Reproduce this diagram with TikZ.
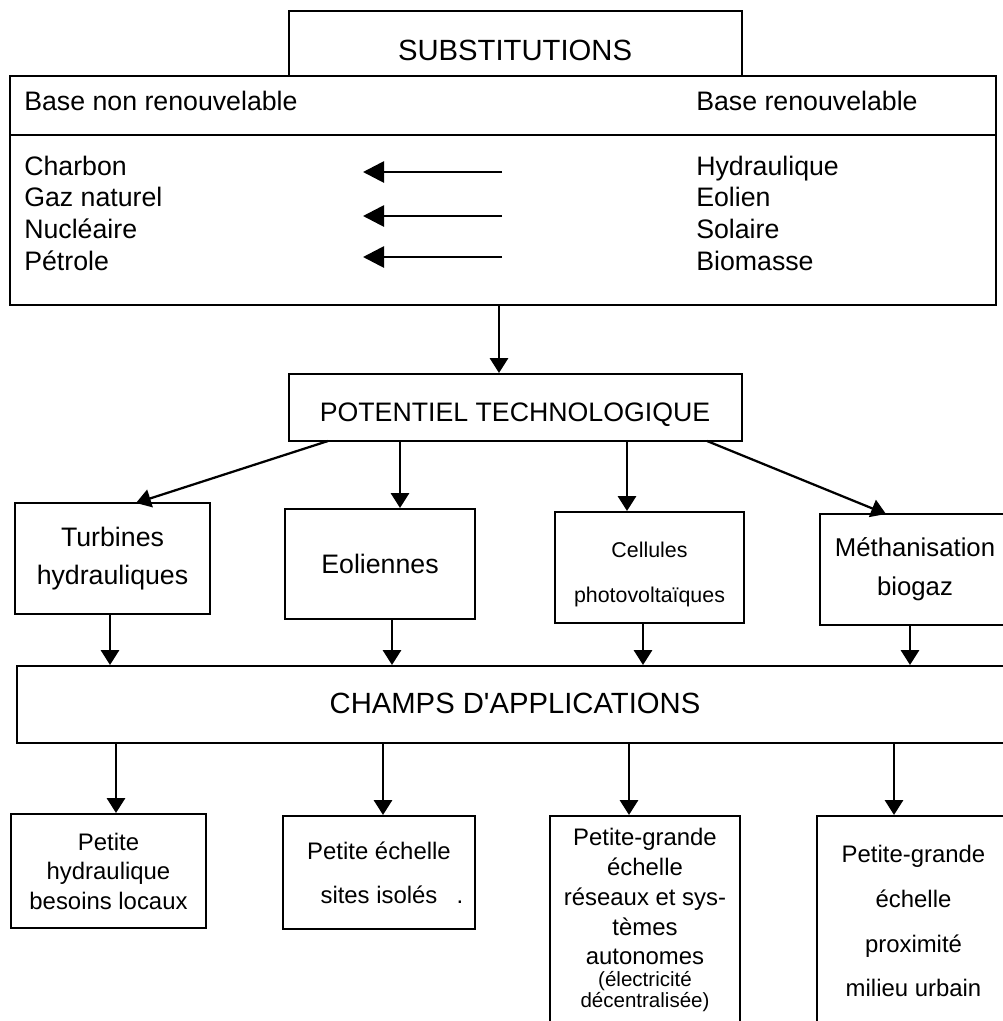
\documentclass[tikz,border=0pt]{standalone}
\usepackage{fontspec}
\setmainfont{Liberation Sans}
\usetikzlibrary{arrows.meta}

\begin{document}
\begin{tikzpicture}[x=0.025cm, y=-0.025cm, >={Triangle[length=10.5pt,width=13pt]},
    box/.style={draw, line width=1.5pt, inner sep=0pt, align=center},
    link/.style={->, line width=1.2pt},
    sublink/.style={-{Triangle[length=15pt,width=15pt]}, line width=2pt},
    headtext/.style={inner sep=0pt, font=\fontsize{20.8}{25}\selectfont},
    txt/.style={inner sep=0pt, font=\fontsize{19}{22.5}\selectfont},
    lowtext/.style={inner sep=0pt, align=center, font=\fontsize{17}{21.2}\selectfont}]
        % Page
        \useasboundingbox (0,0) rectangle (1003,1021);
        \fill[white] (0,0) rectangle (1003,1021);
        \clip (0,0) rectangle (1003,1021);

        % Substitutions
        \node[box, minimum width=11.325cm, minimum height=1.625cm] (subst) at (515.5,43.5) {};
        \node[headtext] (substT) at (515,50) {SUBSTITUTIONS};
        \node[box, minimum width=24.65cm, minimum height=5.725cm] (base) at (503,190.5) {};
        \draw[line width=1.5pt] (10,135) -- (996,135);
        \node[txt, anchor=base west] (nonrenT) at (24,110) {Base non renouvelable};
        \node[txt, anchor=base west] (renT) at (696,110) {Base renouvelable};
        \node[txt, anchor=north west, align=left] (fossil) at (24,155.5) {Charbon\\Gaz naturel\\Nucléaire\\Pétrole};
        \node[txt, anchor=north west, align=left] (green) at (696,155.5) {Hydraulique\\Eolien\\Solaire\\Biomasse};

        % Substitution arrows
        \coordinate (s1) at (502,172);  \coordinate (e1) at (363,172);
        \coordinate (s2) at (502,216);  \coordinate (e2) at (363,216);
        \coordinate (s3) at (502,257);  \coordinate (e3) at (363,257);
        \draw[sublink] (s1) -- (e1);
        \draw[sublink] (s2) -- (e2);
        \draw[sublink] (s3) -- (e3);

        % Potentiel technologique
        \node[box, minimum width=11.325cm, minimum height=1.675cm] (pot) at (515.5,407.5) {};
        \node[headtext, font=\fontsize{19}{23}\selectfont] (potT) at (515,415) {POTENTIEL TECHNOLOGIQUE};
        \coordinate (a0) at (499,305);
        \draw[link] (a0) -- (a0 |- pot.north);

        % Technologies
        \node[box, minimum width=4.875cm, minimum height=2.775cm, font=\fontsize{19}{27.3}\selectfont] (turb) at (112.5,558.5) {Turbines\\hydrauliques};
        \node[box, minimum width=4.75cm, minimum height=2.75cm, font=\fontsize{19}{23}\selectfont] (eol) at (380,564) {Eoliennes};
        \node[box, minimum width=4.725cm, minimum height=2.775cm] (cell) at (649.5,567.5) {};
        \node[inner sep=0pt, align=center, font=\fontsize{15.2}{31.5}\selectfont] (cellT) at (649.5,574.5) {Cellules\\photovoltaïques};
        \node[box, minimum width=4.75cm, minimum height=2.775cm, font=\fontsize{18.3}{27.7}\selectfont] (meth) at (915,569.5) {Méthanisation\\biogaz};

        \coordinate (p1) at (328,441);  \coordinate (q1) at (136,503);
        \coordinate (p2) at (400,441);
        \coordinate (p3) at (627,441);
        \coordinate (p4) at (707,441);  \coordinate (q4) at (886,514);
        \draw[link, line width=1.6pt] (p1) -- (q1);
        \draw[link] (p2) -- (p2 |- eol.north);
        \draw[link] (p3) -- (p3 |- cell.north);
        \draw[link, line width=1.6pt] (p4) -- (q4);

        % Champs d'applications
        \node[box, minimum width=24.9cm, minimum height=1.925cm] (champs) at (515,704.5) {};
        \node[headtext] (champsT) at (515,703) {CHAMPS D\textquotesingle APPLICATIONS};

        \coordinate (t1) at (110,614);
        \coordinate (t2) at (392,619);
        \coordinate (t3) at (643,623);
        \coordinate (t4) at (910,625);
        \draw[link] (t1) -- (t1 |- champs.north);
        \draw[link] (t2) -- (t2 |- champs.north);
        \draw[link] (t3) -- (t3 |- champs.north);
        \draw[link] (t4) -- (t4 |- champs.north);

        % Applications
        \node[box, minimum width=4.875cm, minimum height=2.85cm, font=\fontsize{17}{21}\selectfont] (petite) at (108.5,871) {Petite\\hydraulique\\besoins locaux};
        \node[box, minimum width=4.8cm, minimum height=2.825cm, font=\fontsize{17}{31.5}\selectfont] (isole) at (379,872.5) {Petite échelle\\sites isolés\rlap{\hspace{0.8em}.}};
        \node[box, minimum width=4.75cm, minimum height=6cm] (reseau) at (645,936) {};
        \node[lowtext, anchor=north] (reseauT) at (645,828) {Petite-grande\\échelle\\réseaux et sys-\\tèmes\\autonomes};
        \node[inner sep=0pt, align=center, anchor=north, font=\fontsize{14.6}{14.8}\selectfont] (reseauN) at (645,971) {(électricité\\décentralisée)};
        \node[box, minimum width=4.825cm, minimum height=6cm] (urbain) at (913.5,936) {};
        \node[lowtext, anchor=north, font=\fontsize{17}{31.8}\selectfont] (urbainT) at (913.5,845) {Petite-grande\\échelle\\proximité\\milieu urbain};

        \coordinate (c1) at (116,743);
        \coordinate (c2) at (383,743);
        \coordinate (c3) at (629,743);
        \coordinate (c4) at (894,743);
        \draw[link] (c1) -- (c1 |- petite.north);
        \draw[link] (c2) -- (c2 |- isole.north);
        \draw[link] (c3) -- (c3 |- reseau.north);
        \draw[link] (c4) -- (c4 |- urbain.north);
    \end{tikzpicture}
\end{document}
